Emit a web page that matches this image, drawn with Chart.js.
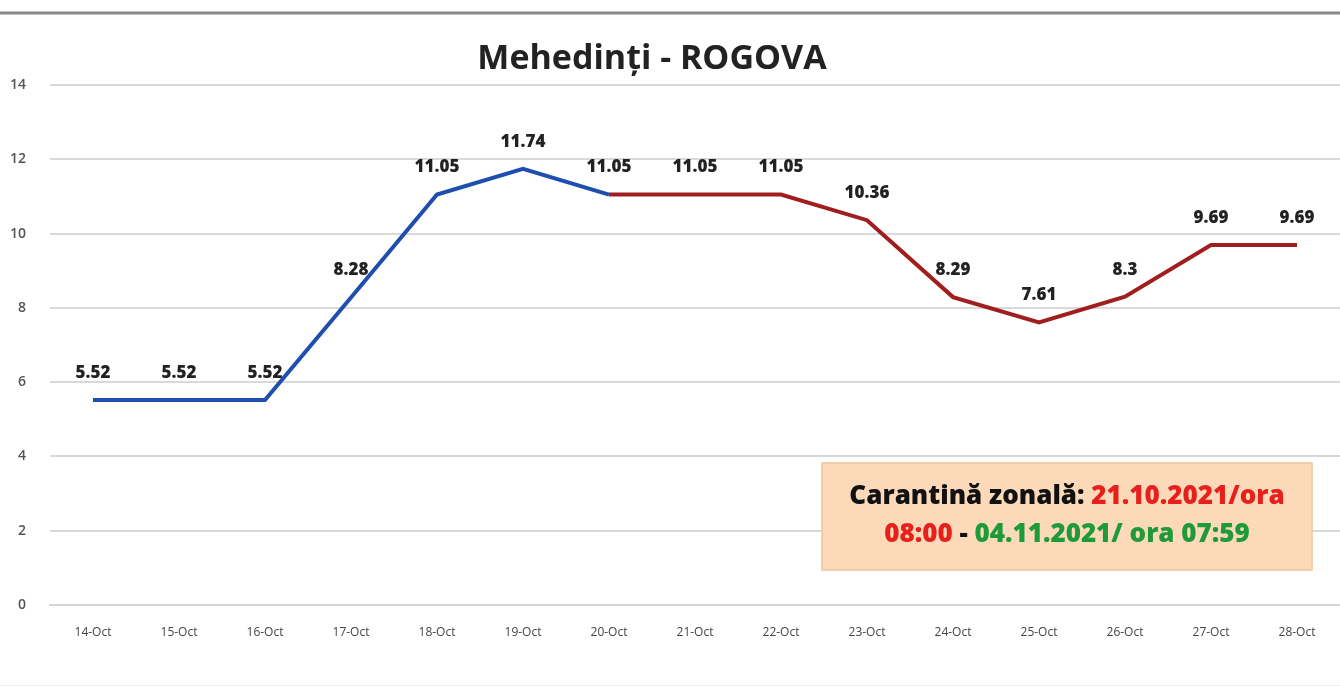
<!DOCTYPE html>
<html>
<head>
<meta charset="utf-8">
<script src="https://cdn.jsdelivr.net/npm/chart.js@4/dist/chart.umd.min.js"></script>
<style>
  html, body { margin: 0; padding: 0; background: #fff; }
  #wrap { width: 1340px; height: 690px; position: relative; }
</style>
</head>
<body>
<div id="wrap"><canvas id="rogovaChart"></canvas></div>
<script>
const days = ["14-Oct", "15-Oct", "16-Oct", "17-Oct", "18-Oct", "19-Oct", "20-Oct",
  "21-Oct", "22-Oct", "23-Oct", "24-Oct", "25-Oct", "26-Oct", "27-Oct", "28-Oct"];
const rates = [5.52, 5.52, 5.52, 8.28, 11.05, 11.74, 11.05,
  11.05, 11.05, 10.36, 8.29, 7.61, 8.3, 9.69, 9.69];
const beforeEnd = 6; // 20-Oct, last blue point / first red point
const yTicks = [0, 2, 4, 6, 8, 10, 12, 14];
const titleText = "Mehedinți - ROGOVA";
const noteLine1 = [["Carantină zonală: ", "#111"], ["21.10.2021/ora", "#e8201c"]];
const noteLine2 = [["08:00", "#e8201c"], [" - ", "#111"], ["04.11.2021/ ora 07:59", "#1e9a3a"]];

const beforeData = rates.map((v, i) => (i <= beforeEnd ? v : null));
const afterData = rates.map((v, i) => (i >= beforeEnd ? v : null));

const decorPlugin = {
  id: "decor",
  beforeDraw(chart) {
    const ctx = chart.ctx;
    ctx.save();
    ctx.fillStyle = "#fff";
    ctx.fillRect(0, 0, chart.width, chart.height);
    ctx.strokeStyle = "#8a8a8a";
    ctx.lineWidth = 3;
    ctx.beginPath();
    ctx.moveTo(0, 13);
    ctx.lineTo(chart.width, 13);
    ctx.stroke();
    ctx.strokeStyle = "#f0f0f0";
    ctx.lineWidth = 1;
    ctx.beginPath();
    ctx.moveTo(0, 685.5);
    ctx.lineTo(chart.width, 685.5);
    ctx.stroke();
    ctx.fillStyle = "#222";
    ctx.font = "bold 34px 'Open Sans'";
    ctx.textAlign = "center";
    ctx.textBaseline = "middle";
    ctx.fillText(titleText, 652, 59);
    ctx.restore();
  },
  afterDatasetsDraw(chart) {
    const ctx = chart.ctx;
    const x = chart.scales.x, y = chart.scales.y;
    ctx.save();
    ctx.font = "800 17px 'Open Sans'";
    ctx.fillStyle = "#222";
    ctx.textAlign = "center";
    ctx.textBaseline = "middle";
    rates.forEach((v, i) => {
      ctx.fillText(String(v), x.getPixelForValue(i), y.getPixelForValue(v) - 27);
    });

    // quarantine note box
    const bx = 822, by = 463, bw = 490, bh = 107;
    ctx.fillStyle = "#fbd9b9";
    ctx.fillRect(bx, by, bw, bh);
    ctx.strokeStyle = "#f0c49c";
    ctx.lineWidth = 1.5;
    ctx.strokeRect(bx, by, bw, bh);
    ctx.font = "800 26px 'Open Sans'";
    ctx.textAlign = "left";
    const drawRich = (parts, cy) => {
      const total = parts.reduce((s, p) => s + ctx.measureText(p[0]).width, 0);
      let cx = bx + bw / 2 - total / 2;
      parts.forEach(([t, c]) => {
        ctx.fillStyle = c;
        ctx.fillText(t, cx, cy);
        cx += ctx.measureText(t).width;
      });
    };
    drawRich(noteLine1, 497);
    drawRich(noteLine2, 535);
    ctx.restore();
  },
};

new Chart(document.getElementById("rogovaChart"), {
  type: "line",
  data: {
    labels: days,
    datasets: [
      {
        data: beforeData,
        borderColor: "#1f4fae",
        borderWidth: 4,
        pointRadius: 0,
        tension: 0,
        spanGaps: false,
      },
      {
        data: afterData,
        borderColor: "#a11e1e",
        borderWidth: 4,
        pointRadius: 0,
        tension: 0,
        spanGaps: false,
      },
    ],
  },
  options: {
    responsive: true,
    maintainAspectRatio: false,
    animation: false,
    layout: { padding: { top: 85, left: 0, right: 0, bottom: 0 } },
    plugins: {
      legend: { display: false },
      tooltip: { enabled: false },
      title: { display: false },
    },
    scales: {
      x: {
        offset: true,
        afterFit(scale) { scale.height = 85; },
        grid: { display: false, drawTicks: false },
        border: { color: "#d4d4d4", width: 2 },
        ticks: {
          color: "#444",
          font: { family: "'Liberation Sans Narrow', 'Open Sans'", size: 12 },
          padding: 20,
          maxRotation: 0,
          autoSkip: false,
        },
      },
      y: {
        min: 0,
        max: 14,
        afterFit(scale) { scale.width = 50; },
        afterBuildTicks(scale) { scale.ticks = yTicks.map((v) => ({ value: v })); },
        grid: { color: "#d9d9d9", lineWidth: 2, drawTicks: false },
        border: { display: false },
        ticks: {
          color: "#555",
          font: { family: "'Open Sans'", size: 14, weight: "600" },
          padding: 24,
        },
      },
    },
  },
  plugins: [decorPlugin],
});
</script>
</body>
</html>
